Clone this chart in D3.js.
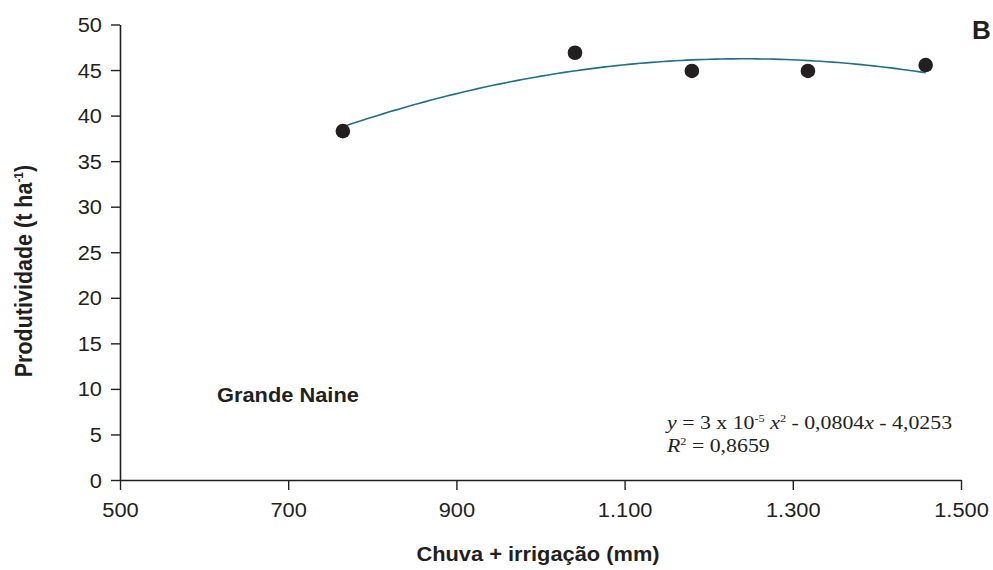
<!DOCTYPE html>
<html>
<head>
<meta charset="utf-8">
<script src="https://cdn.jsdelivr.net/npm/d3@7"></script>
<style>
  html, body { margin: 0; padding: 0; background: #fff; }
  svg { display: block; }
</style>
</head>
<body>
<svg id="chart" width="993" height="570"></svg>
<script>
// Rainfall + irrigation (mm) against yield (t/ha), Grande Naine
const waterMm = [765, 1041, 1180, 1318, 1458];
const yieldT = [38.3, 46.9, 44.9, 44.9, 45.55];
const xTicks = [500, 700, 900, 1100, 1300, 1500];
const yTicks = [0, 5, 10, 15, 20, 25, 30, 35, 40, 45, 50];

const ink = "#231f20";
const curveColor = "#1f6f8b";
const sans = "'Liberation Sans', Arial, sans-serif";
const serif = "'Liberation Serif', 'Times New Roman', serif";
const SX = 1.12;          // slightly wide lettering
const FS = 19.5;

const svg = d3.select("#chart");
const x = d3.scaleLinear().domain([500, 1500]).range([120, 961]);
const y = d3.scaleLinear().domain([0, 50]).range([480, 24.5]);

const ptBr = d3.formatLocale({ decimal: ",", thousands: ".", grouping: [3], currency: ["R$", ""] });
const fmtX = ptBr.format(",d");

// Axes
const gx = svg.append("g").attr("transform", `translate(0,${y(0)})`)
  .call(d3.axisBottom(x).tickValues(xTicks).tickFormat(fmtX).tickSize(10).tickSizeOuter(0));
const gy = svg.append("g").attr("transform", `translate(${x(500)},0)`)
  .call(d3.axisLeft(y).tickValues(yTicks).tickSize(9).tickSizeOuter(0));

[gx, gy].forEach(g => {
  g.select(".domain").attr("stroke", ink).attr("stroke-width", 1.6);
  g.selectAll(".tick line").attr("stroke", ink).attr("stroke-width", 1.4);
  g.selectAll(".tick text")
    .attr("fill", ink)
    .attr("transform", `scale(${SX},1)`)
    .style("font-family", sans)
    .style("font-size", FS + "px");
});
gx.selectAll(".tick text").attr("dy", "0").attr("y", 37);
gy.selectAll(".tick text").attr("x", -18 / SX).attr("dy", "0.36em");

// Quadratic least-squares trend through the points
function quadFit(xs, ys) {
  const n = xs.length;
  const mx = d3.mean(xs);
  const u = xs.map(v => (v - mx) / 100);
  const s = [0, 0, 0, 0, 0], t = [0, 0, 0];
  for (let i = 0; i < n; i++) {
    for (let k = 0; k <= 4; k++) s[k] += Math.pow(u[i], k);
    for (let k = 0; k <= 2; k++) t[k] += Math.pow(u[i], k) * ys[i];
  }
  const A = [[s[0], s[1], s[2]], [s[1], s[2], s[3]], [s[2], s[3], s[4]]];
  const b = t.slice();
  for (let i = 0; i < 3; i++) {
    for (let j = i + 1; j < 3; j++) {
      const f = A[j][i] / A[i][i];
      for (let k = i; k < 3; k++) A[j][k] -= f * A[i][k];
      b[j] -= f * b[i];
    }
  }
  const c = [0, 0, 0];
  for (let i = 2; i >= 0; i--) {
    let sum = b[i];
    for (let k = i + 1; k < 3; k++) sum -= A[i][k] * c[k];
    c[i] = sum / A[i][i];
  }
  return v => { const w = (v - mx) / 100; return c[0] + c[1] * w + c[2] * w * w; };
}
const fit = quadFit(waterMm, yieldT);
const x0 = d3.min(waterMm), x1 = d3.max(waterMm);
const trend = d3.range(0, 101).map(i => x0 + (x1 - x0) * i / 100);

svg.append("path")
  .datum(trend)
  .attr("fill", "none")
  .attr("stroke", curveColor)
  .attr("stroke-width", 1.6)
  .attr("d", d3.line().x(d => x(d)).y(d => y(fit(d))));

// Observations
svg.append("g").selectAll("circle")
  .data(waterMm)
  .join("circle")
  .attr("cx", d => x(d))
  .attr("cy", (d, i) => y(yieldT[i]))
  .attr("r", 7.3)
  .attr("fill", ink);

// Axis titles
svg.append("text")
  .attr("transform", `translate(538,561) scale(${SX},1)`)
  .attr("text-anchor", "middle")
  .attr("fill", ink)
  .style("font-family", sans).style("font-size", FS + "px").style("font-weight", "bold")
  .text("Chuva + irrigação (mm)");

const yt = svg.append("text")
  .attr("transform", `translate(32,271) rotate(-90) scale(1,${SX})`)
  .attr("text-anchor", "middle")
  .attr("fill", ink)
  .style("font-family", sans).style("font-size", "21.5px").style("font-weight", "bold");
yt.append("tspan").text("Produtividade (t ha");
yt.append("tspan").attr("dy", -8).style("font-size", "12px").text("-1");
yt.append("tspan").attr("dy", 8).text(")");

// Cultivar label and panel letter
svg.append("text")
  .attr("transform", `translate(217,402) scale(${SX},1)`)
  .attr("fill", ink)
  .style("font-family", sans).style("font-size", FS + "px").style("font-weight", "bold")
  .text("Grande Naine");

svg.append("text")
  .attr("x", 972).attr("y", 39)
  .attr("fill", ink)
  .style("font-family", sans).style("font-size", "26px").style("font-weight", "bold")
  .text("B");

// Regression equation
const eq = svg.append("text")
  .attr("transform", `translate(667,429) scale(${SX},1)`)
  .attr("fill", ink)
  .style("font-family", serif).style("font-size", FS + "px");
eq.append("tspan").style("font-style", "italic").text("y");
eq.append("tspan").text(" = 3 x 10");
eq.append("tspan").attr("dy", -7).style("font-size", "11px").text("-5");
eq.append("tspan").attr("dy", 7).style("font-style", "italic").text(" x");
eq.append("tspan").attr("dy", -7).style("font-size", "11px").text("2");
eq.append("tspan").attr("dy", 7).text(" - 0,0804");
eq.append("tspan").style("font-style", "italic").text("x");
eq.append("tspan").text(" - 4,0253");

const r2 = svg.append("text")
  .attr("transform", `translate(667,452) scale(${SX},1)`)
  .attr("fill", ink)
  .style("font-family", serif).style("font-size", FS + "px");
r2.append("tspan").style("font-style", "italic").text("R");
r2.append("tspan").attr("dy", -7).style("font-size", "11px").text("2");
r2.append("tspan").attr("dy", 7).text(" = 0,8659");
</script>
</body>
</html>
